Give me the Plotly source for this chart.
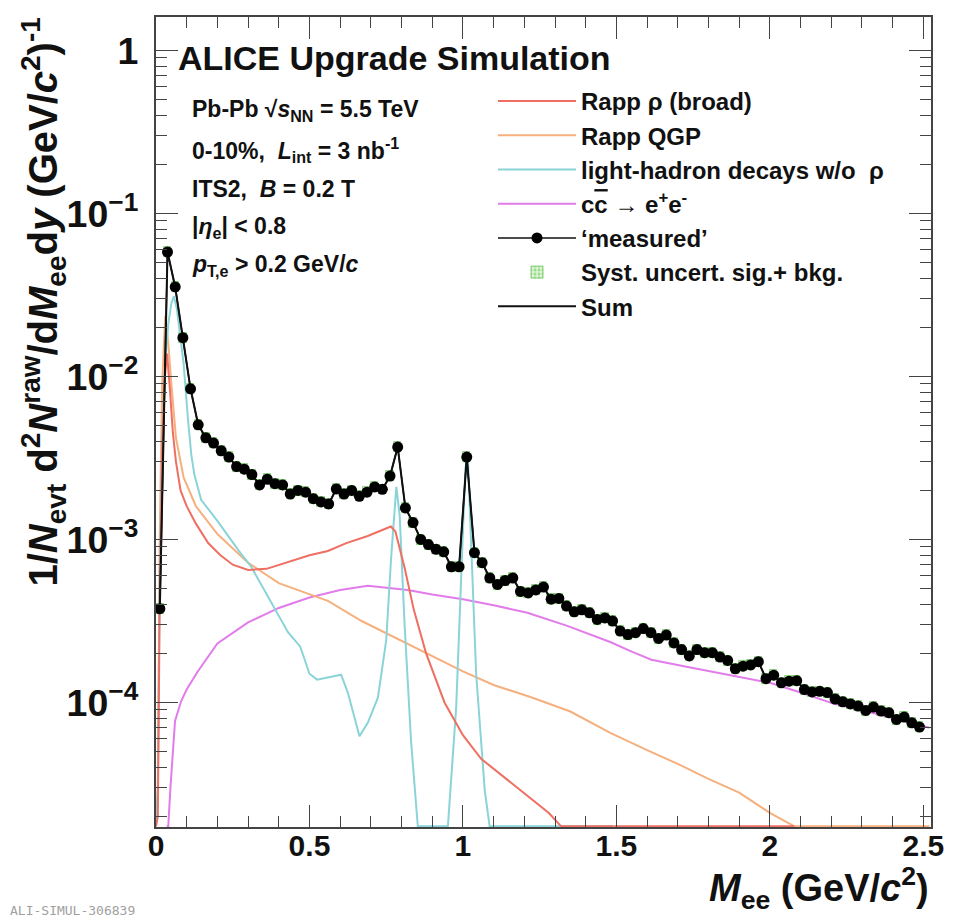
import numpy as np
import plotly.graph_objects as go

# ---------------- data ----------------
mass_bins = np.round(np.arange(0.0125, 2.5, 0.025), 4)

measured = [
    3.76e-4, 0.058, 0.0354, 0.0173, 0.0084, 0.00505, 0.0042, 0.0039, 0.0035, 0.0032,
    0.0028, 0.0027, 0.0025, 0.00216, 0.00234, 0.0022, 0.00216, 0.0019, 0.0020, 0.00195,
    0.00178, 0.0017, 0.00165, 0.00204, 0.0019, 0.0020, 0.00184, 0.00195, 0.0021, 0.00203,
    0.00245, 0.00369, 0.00156, 0.00127, 0.0010, 0.00093, 0.00087, 0.00084, 0.00068, 0.00068,
    0.0032,
    8.3e-4, 7.2e-4, 5.8e-4, 5.3e-4, 5.6e-4, 5.8e-4, 4.8e-4, 4.7e-4, 4.9e-4, 5.1e-4,
    4.3e-4, 4.35e-4, 3.9e-4, 3.6e-4, 3.7e-4, 3.55e-4, 3.23e-4, 3.3e-4, 3.16e-4, 2.74e-4,
    2.61e-4, 2.68e-4, 2.84e-4, 2.68e-4, 2.47e-4, 2.59e-4, 2.32e-4, 2.11e-4, 1.93e-4, 2.11e-4,
    2.02e-4, 2.02e-4, 1.9e-4, 1.81e-4, 1.61e-4, 1.67e-4, 1.7e-4, 1.78e-4, 1.4e-4, 1.47e-4,
    1.32e-4, 1.35e-4, 1.36e-4, 1.2e-4, 1.16e-4, 1.17e-4, 1.15e-4, 1.05e-4, 1.01e-4, 9.8e-5,
    9.5e-5, 8.93e-5, 9.37e-5, 8.86e-5, 8.65e-5, 7.87e-5, 8.13e-5, 7.5e-5, 7.06e-5,
]
syst_rel = 0.07

rho_x = [0.0, 0.006, 0.012, 0.02, 0.028, 0.036, 0.045, 0.055, 0.065, 0.08, 0.1, 0.13,
         0.17, 0.21, 0.25, 0.3, 0.36, 0.43, 0.5, 0.56, 0.62, 0.69, 0.74, 0.765, 0.78,
         0.81, 0.84, 0.88, 0.94, 1.0, 1.06, 1.14, 1.22, 1.28, 1.32, 1.36, 1.49]
rho_y = [1e-6, 2e-5, 4e-4, 0.0035, 0.0095, 0.0138, 0.0085, 0.0045, 0.003, 0.002, 0.0016,
         0.00125, 0.00095, 0.0008, 0.0007, 0.00065, 0.00066, 0.00073, 0.0008, 0.00085,
         0.00095, 0.00105, 0.00115, 0.0012, 0.00112, 0.00067, 0.00037, 0.0002, 0.0001,
         6.3e-5, 4.5e-5, 3.4e-5, 2.6e-5, 2.1e-5, 1.7e-5, 1.4e-5, 8e-6]
rho_tail_x = [1.49, 2.08]
rho_tail_y = [8e-6, 5e-6]

qgp_x = [0.0, 0.006, 0.012, 0.02, 0.03, 0.04, 0.05, 0.065, 0.09, 0.13, 0.2, 0.3, 0.4,
         0.5, 0.56, 0.67, 0.78, 0.89, 1.0, 1.1, 1.22, 1.35, 1.48, 1.6, 1.7, 1.8, 1.9,
         2.0, 2.08, 2.2, 2.52]
qgp_y = [1e-6, 3e-5, 1e-3, 0.009, 0.0235, 0.016, 0.009, 0.0042, 0.0024, 0.0016, 0.00108,
         0.00072, 0.00054, 0.00046, 0.00042, 0.000316, 0.00025, 0.000197, 0.000155,
         0.000128, 0.000108, 8.8e-5, 6.5e-5, 5.1e-5, 4.2e-5, 3.4e-5, 2.8e-5, 2.1e-5,
         1.72e-5, 1.3e-5, 6e-6]

lh_x = [0.0, 0.006, 0.012, 0.02, 0.03, 0.04, 0.05, 0.058, 0.068, 0.08, 0.09, 0.104,
        0.115, 0.125, 0.147, 0.2, 0.27, 0.31, 0.38, 0.43, 0.47, 0.5, 0.525, 0.56, 0.603,
        0.625, 0.663, 0.69, 0.723, 0.75, 0.766, 0.783, 0.794, 0.81, 0.831, 0.853, 0.87,
        0.935, 0.951, 0.978, 0.995, 1.008, 1.016, 1.027, 1.043, 1.071, 1.087, 1.1, 1.49]
lh_y = [1e-6, 3e-5, 6e-4, 0.004, 0.012, 0.021, 0.028, 0.031, 0.026, 0.017, 0.012, 0.0055,
        0.0033, 0.0025, 0.00175, 0.0013, 0.00085, 0.00068, 0.0004, 0.00027, 0.00022,
        0.00015, 0.000138, 0.000142, 0.000148, 0.000115, 6.2e-5, 7.5e-5, 0.000107,
        0.00024, 0.00077, 0.0021, 0.0014, 0.0003, 5.8e-5, 1.7e-5, 5e-6, 5e-6, 1.7e-5,
        9.3e-5, 0.00061, 0.00275, 0.0032, 0.00098, 0.00015, 2.9e-5, 1.7e-5, 5e-6, 5e-6]

cc_x = [0.035, 0.04, 0.047, 0.054, 0.062, 0.082, 0.1, 0.136, 0.2, 0.3, 0.4, 0.5, 0.6,
        0.69, 0.82, 0.9, 1.0, 1.1, 1.21, 1.34, 1.48, 1.55, 1.614, 1.72, 1.85, 2.0, 2.1,
        2.21, 2.35, 2.49, 2.52]
cc_y = [1e-6, 1.5e-5, 3e-5, 4.8e-5, 7.7e-5, 1.02e-4, 1.2e-4, 1.55e-4, 2.3e-4, 3.1e-4,
        3.8e-4, 4.4e-4, 4.9e-4, 5.2e-4, 4.9e-4, 4.6e-4, 4.3e-4, 3.95e-4, 3.55e-4, 2.95e-4,
        2.35e-4, 2.05e-4, 1.83e-4, 1.67e-4, 1.5e-4, 1.32e-4, 1.15e-4, 9.8e-5, 8.5e-5,
        7.3e-5, 7.0e-5]

x_tick_vals = [0, 0.5, 1, 1.5, 2, 2.5]
x_tick_text = ["0", "0.5", "1", "1.5", "2", "2.5"]

# ---------------- style ----------------
FONT = "Liberation Sans"
LOG_MIN, LOG_MAX = -4.764, 0.205
X_MAX = 2.525
FLOOR = 10 ** (LOG_MIN + 0.004)
L, R, T, B = 148, 30, 9, 101
W, H = 953, 920
PW, PH = W - L - R, H - T - B

def px(xp):
    return (xp - L) / PW

def py(yp):
    return 1 - (yp - T) / PH

def floor(v):
    return np.maximum(np.asarray(v, dtype=float), FLOOR)

C_RHO = "#ef6f62"
C_QGP = "#f5b07e"
C_LH = "#8ad4d8"
C_CC = "#e27ceb"

fig = go.Figure()

meas = np.asarray(measured)
lo = meas * (1 - syst_rel)
hi = meas * (1 + syst_rel)
fig.add_trace(go.Bar(
    x=mass_bins, y=hi - lo, base=lo, width=0.024,
    marker=dict(color="#c9f0bf", line=dict(color="#6cc45a", width=0.8),
                pattern=dict(shape=".", fgcolor="#5cbf4a", bgcolor="#d9f5d0", size=5, solidity=0.4)),
    name="Syst. uncert. sig.+ bkg.", legendrank=6, hoverinfo="skip"))

fig.add_trace(go.Scatter(x=cc_x, y=floor(cc_y), mode="lines",
                         line=dict(color=C_CC, width=2),
                         name="c<span style='text-decoration:overline'>c</span> \u2192 e<sup>+</sup>e<sup>-</sup>",
                         legendrank=4))
fig.add_trace(go.Scatter(x=qgp_x, y=floor(qgp_y), mode="lines",
                         line=dict(color=C_QGP, width=2), name="Rapp QGP", legendrank=2))
fig.add_trace(go.Scatter(x=rho_tail_x, y=floor(rho_tail_y), mode="lines",
                         line=dict(color=C_RHO, width=2), showlegend=False))
fig.add_trace(go.Scatter(x=lh_x, y=floor(lh_y), mode="lines",
                         line=dict(color=C_LH, width=2), name="light-hadron decays w/o  \u03c1",
                         legendrank=3))
fig.add_trace(go.Scatter(x=rho_x, y=floor(rho_y), mode="lines",
                         line=dict(color=C_RHO, width=2), name="Rapp \u03c1 (broad)", legendrank=1))
fig.add_trace(go.Scatter(x=mass_bins, y=meas, mode="lines",
                         line=dict(color="#111111", width=2), name="Sum", legendrank=7))
fig.add_trace(go.Scatter(x=mass_bins, y=meas, mode="lines+markers",
                         line=dict(color="#111111", width=1.5),
                         marker=dict(color="#000000", size=11, symbol="circle"),
                         name="\u2018measured\u2019", legendrank=5))

axis_common = dict(
    showline=True, linecolor="#444444", linewidth=1.5, mirror="ticks",
    ticks="inside", ticklen=22, tickwidth=1.3, tickcolor="#444444",
    showgrid=False, zeroline=False,
    tickfont=dict(family=FONT, size=30, color="#111111", weight="bold"),
)

fig.update_xaxes(range=[0, X_MAX], tickvals=x_tick_vals, ticktext=x_tick_text,
                 minor=dict(ticks="inside", ticklen=11, tickwidth=1.2, tickcolor="#444444",
                            dtick=0.1, tick0=0, showgrid=False),
                 ticklabelstandoff=-9,
                 **axis_common)
fig.update_yaxes(type="log", range=[LOG_MIN, LOG_MAX], dtick=1, exponentformat="power",
                 minor=dict(ticks="inside", ticklen=11, tickwidth=1.2, tickcolor="#444444",
                            showgrid=False),
                 ticklabelstandoff=10,
                 **axis_common)

ann = []
ann.append(dict(text="ALICE Upgrade Simulation", x=px(168), y=py(50), xref="paper", yref="paper",
                xanchor="left", yanchor="middle", showarrow=False,
                font=dict(family=FONT, size=34, color="#111111", weight="bold")))
params = [
    ("Pb-Pb \u221a<i>s</i><sub>NN</sub> = 5.5 TeV", 110),
    ("0-10%,  <i>L</i><sub>int</sub> = 3 nb<sup>-1</sup>", 149),
    ("ITS2,  <i>B</i> = 0.2 T", 188),
    ("|<i>\u03b7</i><sub>e</sub>| &lt; 0.8", 226),
    ("<i>p</i><sub>T,e</sub> &gt; 0.2 GeV/<i>c</i>", 264),
]
for txt, yp in params:
    ann.append(dict(text=txt, x=px(182), y=py(yp - 7), xref="paper", yref="paper",
                    xanchor="left", yanchor="middle", showarrow=False,
                    font=dict(family=FONT, size=23, color="#111111", weight="bold")))
ann.append(dict(text="<i>M</i><sub>ee</sub> (GeV/<i>c</i><sup>2</sup>)", x=px(923), y=py(880),
                xref="paper", yref="paper", xanchor="right", yanchor="middle", showarrow=False,
                font=dict(family=FONT, size=38, color="#111111", weight="bold")))
ann.append(dict(text="1/<i>N</i><sub>evt</sub> d<sup>2</sup><i>N</i><sup>raw</sup>/d<i>M</i><sub>ee</sub>d<i>y</i> (GeV/<i>c</i><sup>2</sup>)<sup>-1</sup>",
                x=px(36), y=py(8), xref="paper", yref="paper", xanchor="center", yanchor="top",
                textangle=-90, showarrow=False,
                font=dict(family=FONT, size=40, color="#111111", weight="bold")))
ann.append(dict(text="ALI-SIMUL-306839", x=px(0), y=py(903), xref="paper", yref="paper",
                xanchor="left", yanchor="middle", showarrow=False,
                font=dict(family="DejaVu Sans Mono", size=13, color="#a0a0a0")))

fig.update_layout(
    width=W, height=H, margin=dict(l=L, r=R, t=T, b=B, autoexpand=False),
    paper_bgcolor="white", plot_bgcolor="white",
    barmode="overlay", bargap=0,
    annotations=ann,
    showlegend=True,
    legend=dict(x=px(485), y=py(71), xanchor="left", yanchor="top",
                bgcolor="rgba(0,0,0,0)", borderwidth=0,
                font=dict(family=FONT, size=24, color="#111111", weight="bold"),
                traceorder="normal", itemwidth=78),
)

fig.write_html("out.html")
